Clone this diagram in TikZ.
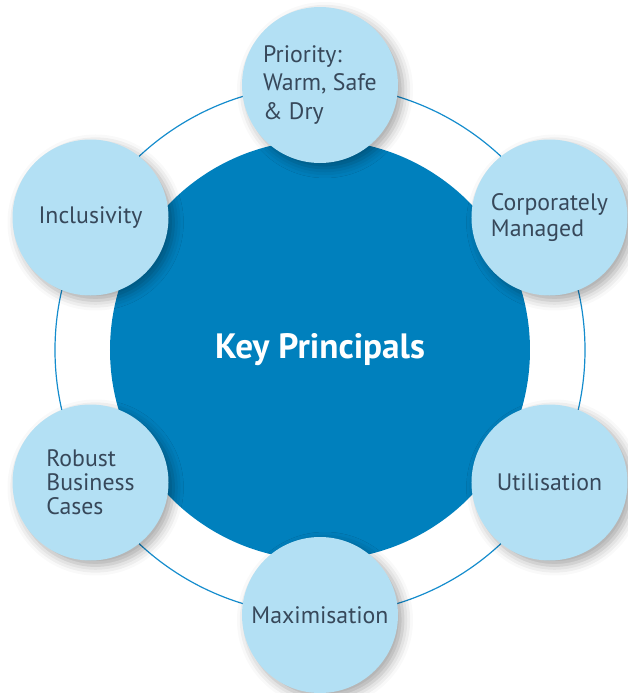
\documentclass[tikz,border=0pt]{standalone}
\usepackage{fontspec}
\setmainfont{PT Sans}
\usetikzlibrary{calc,shadows.blur}
\definecolor{keyblue}{RGB}{0,128,189}
\definecolor{ringblue}{RGB}{20,140,205}
\definecolor{paleblue}{RGB}{179,224,244}
\definecolor{slate}{RGB}{55,72,90}

\begin{document}
\begin{tikzpicture}[x=0.5pt, y=0.5pt,
    principle/.style={circle, fill=paleblue, minimum size=78pt, inner sep=0pt,
        align=left, text=slate, font=\fontsize{11.9}{13}\selectfont,
        blur shadow={shadow xshift=2.5pt, shadow yshift=-2.5pt,
            shadow blur radius=5pt, shadow opacity=35}}]
    \useasboundingbox (0,0) rectangle (628,693);
    \coordinate (centre) at (320,343);

    % Outer ring
    \draw[ringblue, line width=0.6pt] (centre) circle[radius=265];

    % Main circle
    \node[circle, fill=keyblue, minimum size=210pt, text=white,
        font=\bfseries\fontsize{17.6}{20}\selectfont] (key) at (centre) {Key Principals};

    % Principles round the ring
    \node[principle, font=\fontsize{11.9}{14.2}\selectfont] (warm) at ($(centre)+(90:265)$)
        {Priority:\\Warm, Safe\\\& Dry};
    \node[principle] (corp) at ($(centre)+(30:265)$) {Corporately\\Managed};
    \node[principle] (util) at ($(centre)+(-30:265)$) {Utilisation};
    \node[principle] (maxi) at ($(centre)+(-90:265)$) {Maximisation};
    \node[principle, font=\fontsize{11.9}{12}\selectfont] (cases) at ($(centre)+(210:265)$)
        {Robust\\Business\\Cases};
    \node[principle] (incl) at ($(centre)+(150:265)$) {Inclusivity};
\end{tikzpicture}
\end{document}
